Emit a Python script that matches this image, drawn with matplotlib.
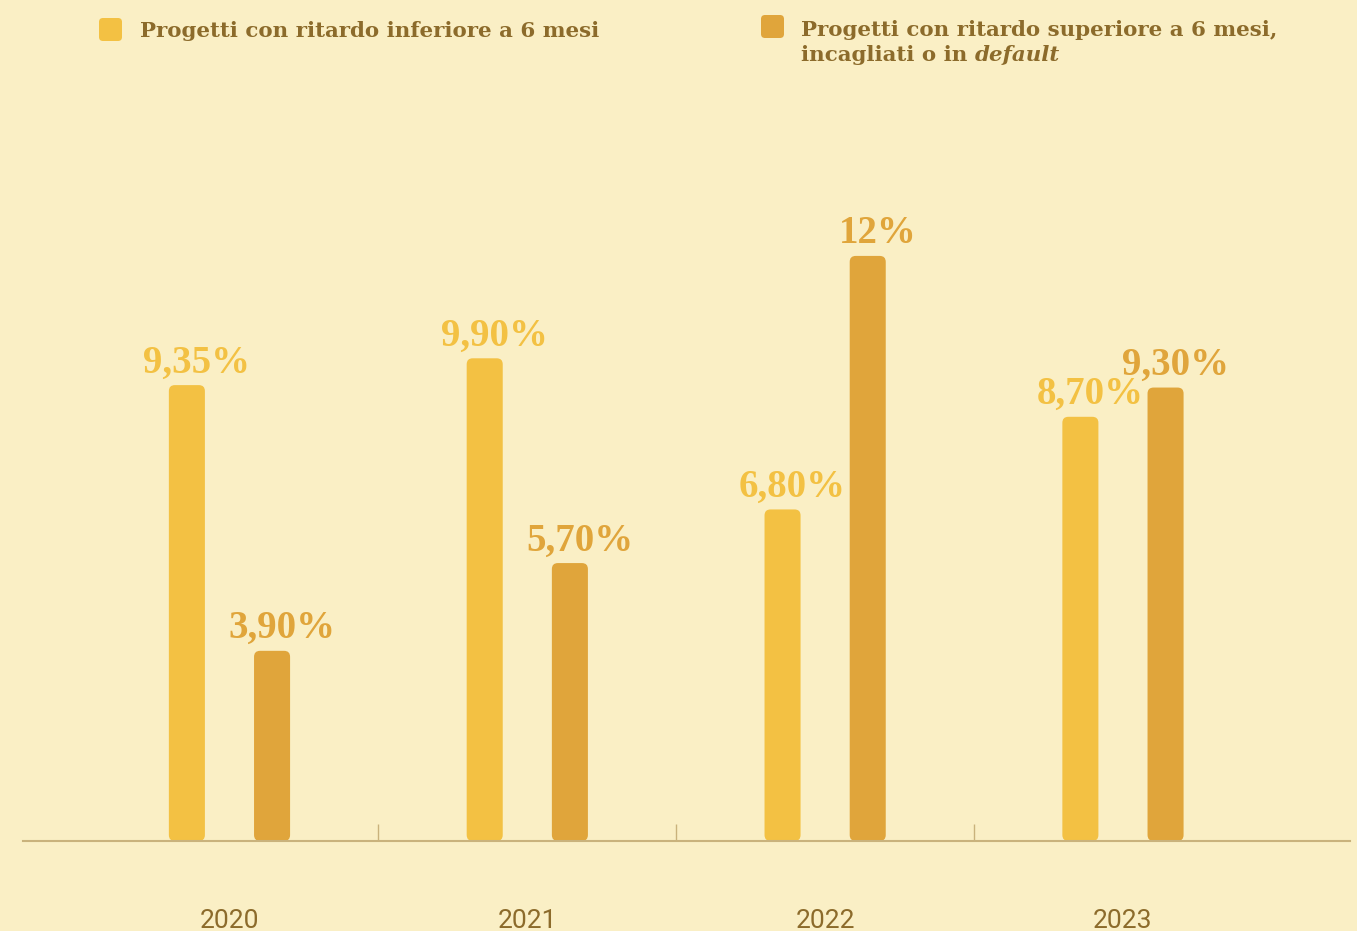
import numpy as np
import matplotlib.pyplot as plt
from matplotlib.patches import FancyBboxPatch

anni = ['2020', '2021', '2022', '2023']
ritardo_inf = [9.35, 9.90, 6.80, 8.70]
ritardo_sup = [3.90, 5.70, 12.0, 9.30]
etich_inf = ['9,35%', '9,90%', '6,80%', '8,70%']
etich_sup = ['3,90%', '5,70%', '12%', '9,30%']

sfondo = '#FAEFC5'
giallo = '#F3C143'
arancio = '#E0A53B'
marrone = '#8C6B2B'
asse = '#C9B27C'

fig = plt.figure(figsize=(13.57, 9.31), dpi=100, facecolor=sfondo)
ax = fig.add_axes([0.017, 0.0967, 0.978, 0.796])
ax.set_facecolor(sfondo)

x = np.arange(len(anni))
off = 0.143
w = 0.121
ax.set_xlim(-0.693, 3.763)
ax.set_ylim(0, 15.2)

b1 = ax.bar(x - off, ritardo_inf, w, color=giallo)
b2 = ax.bar(x + off, ritardo_sup, w, color=arancio)

# angoli arrotondati: sostituisco i rettangoli con FancyBboxPatch
fig.canvas.draw()
bb = ax.get_window_extent()
px_x = bb.width / (3.763 + 0.693)
px_y = bb.height / 15.2
r = 6 / px_x
for bars in (b1, b2):
    for p in bars.patches:
        fb = FancyBboxPatch((p.get_x(), p.get_y()), p.get_width(), p.get_height(),
                            boxstyle='round,pad=0,rounding_size=%f' % r,
                            mutation_aspect=px_x / px_y,
                            fc=p.get_facecolor(), ec='none', zorder=2)
        ax.add_patch(fb)
        p.set_visible(False)

for bars, lab, col in ((b1, etich_inf, giallo), (b2, etich_sup, arancio)):
    for p, t in zip(bars.patches, lab):
        ax.annotate(t, (p.get_x() + p.get_width() / 2, p.get_height()),
                    xytext=(7, 9), textcoords='offset points', ha='center', va='baseline',
                    fontsize=28, fontweight='bold', family='Liberation Serif', color=col)

for s in ['top', 'right', 'left']:
    ax.spines[s].set_visible(False)
ax.spines['bottom'].set_color(asse)
ax.spines['bottom'].set_linewidth(1.5)
ax.spines['bottom'].set_zorder(3)
ax.set_yticks([])
ax.set_xticks(x, anni)
ax.tick_params(axis='x', length=0, pad=49, labelsize=19, labelcolor=marrone)
for t in ax.get_xticklabels():
    t.set_family('Roboto')
ax.set_xticks(x[:-1] + 0.5, minor=True)
ax.tick_params(axis='x', which='minor', direction='in', length=12, width=1, color=asse)

# legenda
for xs, ys, col in ((99, 18, giallo), (761, 15, arancio)):
    fig.patches.append(FancyBboxPatch((xs / 1357, 1 - (ys + 23) / 931), 23 / 1357, 23 / 931,
                                      boxstyle='round,pad=0,rounding_size=%f' % (4 / 1357),
                                      mutation_aspect=1357 / 931,
                                      transform=fig.transFigure, fc=col, ec='none'))
kw = dict(fontsize=15.4, fontweight='bold', family='DejaVu Serif', color=marrone, va='baseline')
fig.text(140 / 1357, 1 - 37 / 931, 'Progetti con ritardo inferiore a 6 mesi', **kw)
fig.text(801 / 1357, 1 - 36 / 931, 'Progetti con ritardo superiore a 6 mesi,', **kw)
t1 = fig.text(801 / 1357, 1 - 61 / 931, 'incagliati o in ', **kw)
ax.annotate('default', xy=(1, 1 - 61 / 931), xycoords=(t1, 'figure fraction'),
            ha='left', style='italic', **kw)

fig.savefig('out.png', dpi=100, facecolor=sfondo)
